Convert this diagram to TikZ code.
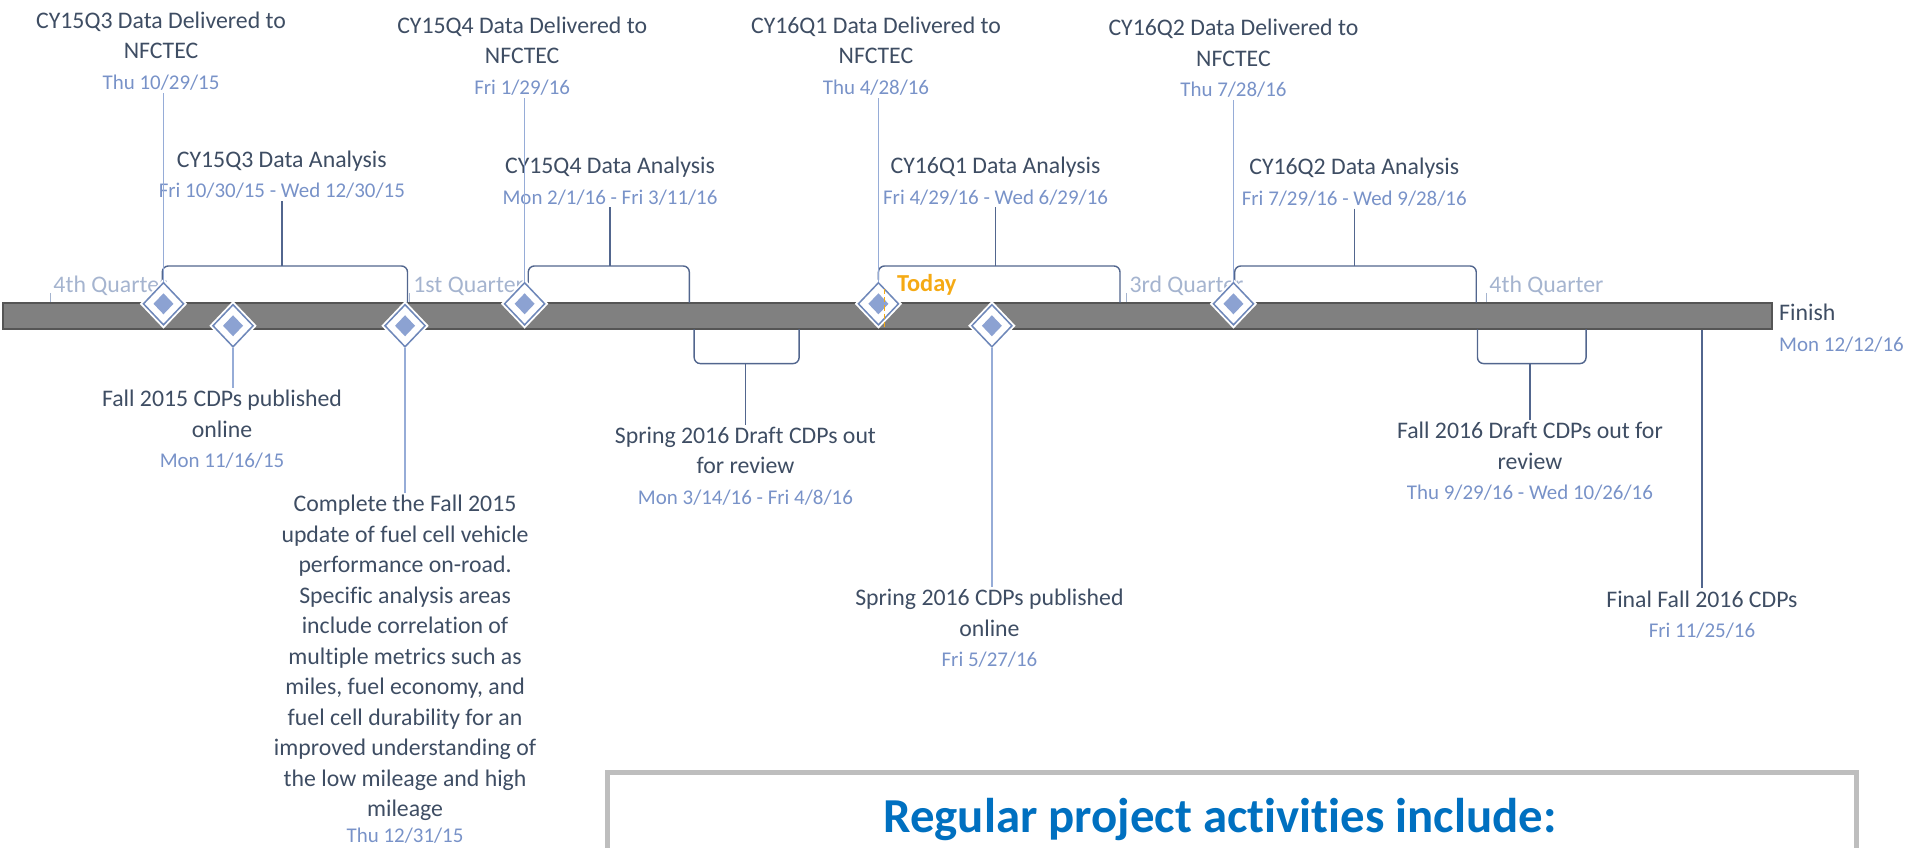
\documentclass[tikz,border=0pt]{standalone}
\usepackage{fontspec}
\setmainfont{Carlito}[Ligatures=NoCommon]
\usetikzlibrary{shapes}
\definecolor{txt}{RGB}{62,77,99}
\definecolor{dat}{RGB}{120,146,200}
\definecolor{qtrc}{RGB}{165,180,207}
\definecolor{ldrc}{RGB}{150,172,215}
\definecolor{brkc}{RGB}{82,102,142}
\definecolor{msline}{RGB}{110,135,185}
\definecolor{msfill}{RGB}{140,162,210}
\definecolor{barfill}{RGB}{128,128,128}
\definecolor{barln}{RGB}{85,85,85}
\definecolor{todayc}{RGB}{245,170,20}
\definecolor{ttlc}{RGB}{0,112,192}
\definecolor{boxc}{RGB}{190,190,190}
\newcommand{\mainf}{\fontsize{11.7}{15}\selectfont}
\newcommand{\datef}{\fontsize{10.3}{13}\selectfont\color{dat}}
\tikzset{
lbl/.style={align=center, text=txt, font=\mainf, inner sep=1pt},
bar/.style={rectangle, draw=barln, fill=barfill, line width=0.8pt,
	minimum width=870pt, minimum height=12.6pt, inner sep=0pt},
ms/.style={diamond, minimum width=20pt, minimum height=21pt, inner sep=0pt,
	fill=white, draw=msline, line width=0.75pt,
	preaction={draw=white, line width=2.6pt}},
msin/.style={diamond, minimum width=10pt, minimum height=10.5pt,
	inner sep=0pt, fill=msfill},
ldr/.style={draw=ldrc, line width=0.6pt},
brk/.style={draw=brkc, line width=0.7pt, rounded corners=3pt},
qtr/.style={anchor=base west, text=qtrc, font=\mainf, inner xsep=1.5pt,
	inner ysep=0pt},
qtick/.style={draw=qtrc, line width=0.5pt}
}

\begin{document}
\begin{tikzpicture}[x=0.6pt, y=-0.6pt]
	\useasboundingbox (0,0) rectangle (1568,695);
	\node[bar] (bar) at (727.5,259) {};
	\coordinate (up) at (0,218);
	\coordinate (dn) at (0,298);

	\foreach \n/\x/\t in {q1/41/4th Quarter, q2/336/1st Quarter,
		q3/923/3rd Quarter, q4/1218/4th Quarter}{
		\node[qtr] (\n) at (\x,240) {\t};
		\draw[qtick] (\n.base west) -- (\n.base west |- bar.north);
	}
	\node[anchor=base west, text=todayc, inner sep=0pt,
		font=\fontsize{12}{14}\selectfont\bfseries] (today) at (735,239) {Today};

	\node[lbl, anchor=south] (l1) at (132,76)
		{CY15Q3 Data Delivered to\\NFCTEC\\\datef Thu 10/29/15};
	\node[lbl, anchor=south] (l4) at (428,80)
		{CY15Q4 Data Delivered to\\NFCTEC\\\datef Fri 1/29/16};
	\node[lbl, anchor=south] (l5) at (718,80)
		{CY16Q1 Data Delivered to\\NFCTEC\\\datef Thu 4/28/16};
	\node[lbl, anchor=south] (l7) at (1011,82)
		{CY16Q2 Data Delivered to\\NFCTEC\\\datef Thu 7/28/16};
	\node[lbl, anchor=south] (a1) at (231,165)
		{CY15Q3 Data Analysis\\\datef Fri 10/30/15 - Wed 12/30/15};
	\node[lbl, anchor=south] (a2) at (500,170)
		{CY15Q4 Data Analysis\\\datef Mon 2/1/16 - Fri 3/11/16};
	\node[lbl, anchor=south] (a3) at (816,170)
		{CY16Q1 Data Analysis\\\datef Fri 4/29/16 - Wed 6/29/16};
	\node[lbl, anchor=south] (a4) at (1110,171)
		{CY16Q2 Data Analysis\\\datef Fri 7/29/16 - Wed 9/28/16};
	\node[lbl, anchor=north] (l2) at (182,318)
		{Fall 2015 CDPs published\\online\\\datef Mon 11/16/15};
	\node[lbl, anchor=north] (l3) at (332,404)
		{Complete the Fall 2015\\update of fuel cell vehicle\\performance on-road.\\
		Specific analysis areas\\include correlation of\\multiple metrics such as\\
		miles, fuel economy, and\\fuel cell durability for an\\
		improved understanding of\\the low mileage and high\\mileage\\[-2.2pt]
		\datef Thu 12/31/15};
	\node[lbl, anchor=north] (l6) at (811,481)
		{Spring 2016 CDPs published\\online\\\datef Fri 5/27/16};
	\node[lbl, anchor=north] (e1) at (611,348)
		{Spring 2016 Draft CDPs out\\for review\\\datef Mon 3/14/16 - Fri 4/8/16};
	\node[lbl, anchor=north] (e2) at (1254,344)
		{Fall 2016 Draft CDPs out for\\review\\\datef Thu 9/29/16 - Wed 10/26/16};
	\node[lbl, anchor=north] (f1) at (1395,482)
		{Final Fall 2016 CDPs\\\datef Fri 11/25/16};
	\node[lbl, anchor=north west, align=left, inner sep=0pt] (fin) at (1458,249)
		{Finish\\\datef Mon 12/12/16};

	\foreach \n/\l/\r in {a1/133/334, a2/433/565, a3/720/918, a4/1012/1210}{
		\coordinate (\n-l) at (\l,248);
		\coordinate (\n-r) at (\r,248);
		\draw[brk] (\n-l) |- (\n.south |- up) -| (\n-r);
		\draw[brk] (\n.south) -- (\n.south |- up);
	}
	\foreach \n/\l/\r in {e1/569/655, e2/1211/1300}{
		\coordinate (\n-l) at (\l,270);
		\coordinate (\n-r) at (\r,270);
		\draw[brk] (\n-l) |- (\n.north |- dn) -| (\n-r);
		\draw[brk] (\n.north) -- (\n.north |- dn);
	}
	\draw[brk] (f1.north) -- (f1.north |- bar.south);

	\foreach \n/\x/\y in {m1/134/249, m2/191/267, m3/332/267, m4/430/249,
		m5/720/249, m6/813/267, m7/1011/249}{
		\node[ms] (\n) at (\x,\y) {};
		\node[msin] (\n-in) at (\n) {};
	}
	\foreach \m/\l in {m1/l1, m4/l4, m5/l5, m7/l7}
		\draw[ldr] (\m.north) -- (\m.north |- \l.south);
	\foreach \m/\l in {m2/l2, m3/l3, m6/l6}
		\draw[ldr] (\m.south) -- (\m.south |- \l.north);

	\coordinate (tdy) at (725,237);
	\draw[todayc, line width=0.8pt, dash pattern=on 2.5pt off 1.5pt]
		(tdy) -- (tdy |- bar.south);

	\draw[boxc, line width=2.4pt] (498,700) -- (498,633) -- (1522,633) -- (1522,700);
	\node[text=ttlc, font=\fontsize{24}{28}\selectfont\bfseries] (ttl) at (1000,672)
		{Regular project activities include:};
\end{tikzpicture}
\end{document}
